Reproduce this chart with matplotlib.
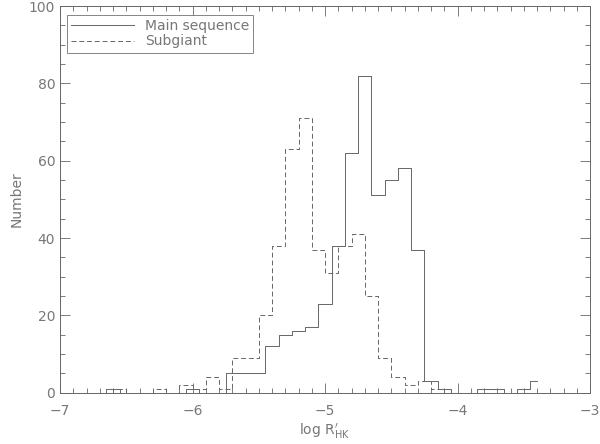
import numpy as np
import matplotlib.pyplot as plt
from matplotlib.ticker import MultipleLocator

# histogram of log R'HK, bin width 0.1
ms_centers = np.round(np.arange(-7.0, -3.35, 0.1), 2)
ms_counts = [0, 0, 0, 0, 1, 0, 0, 0, 0, 0,
             1, 0, 0, 5, 5, 5, 12, 15, 16, 17,
             23, 38, 62, 82, 51, 55, 58, 37, 3, 1,
             0, 0, 1, 1, 0, 1, 3]

sg_centers = np.round(np.arange(-6.95, -3.9, 0.1), 2)
sg_counts = [0, 0, 0, 0, 1, 0, 0, 1, 0, 2,
             1, 4, 1, 9, 9, 20, 38, 63, 71, 37,
             31, 38, 41, 25, 9, 4, 2, 3, 1, 0,
             0]

col = "#666666"
txt = "#777777"

fig = plt.figure(figsize=(6, 4.44), dpi=100)
ax = fig.add_axes([60/600, 1 - 392.7/444, 530/600, 386.7/444])

ax.step(ms_centers, ms_counts[:len(ms_centers)], where="mid", color=col, lw=0.7, label="Main sequence")
ax.step(sg_centers, sg_counts[:len(sg_centers)], where="mid", color=col, lw=0.7,
        linestyle=(0, (5, 3)), label="Subgiant")

ax.set_xlim(-7, -3)
ax.set_ylim(0, 100)
ax.xaxis.set_major_locator(MultipleLocator(1))
ax.xaxis.set_minor_locator(MultipleLocator(0.1))
ax.yaxis.set_major_locator(MultipleLocator(20))
ax.yaxis.set_minor_locator(MultipleLocator(5))
ax.tick_params(which="both", direction="in", top=True, right=True, colors=col,
               labelcolor=txt, labelsize=10, width=0.6)
ax.tick_params(which="major", length=7)
ax.tick_params(which="minor", length=3.5)
ax.tick_params(axis="x", pad=8)
for s in ax.spines.values():
    s.set_color(col)
    s.set_linewidth(0.7)

ax.set_xlabel(r"log R$^{\prime}_{\mathrm{HK}}$", color=txt, fontsize=10, labelpad=3)
ax.set_ylabel("Number", color=txt, fontsize=10, labelpad=4)

leg = ax.legend(loc="upper left", fontsize=10, frameon=True, fancybox=False,
                handlelength=4.5, borderpad=0.3, labelspacing=0.1,
                borderaxespad=0, bbox_to_anchor=(0.013, 0.977))
leg.get_frame().set_edgecolor(col)
leg.get_frame().set_linewidth(0.7)
for t in leg.get_texts():
    t.set_color(txt)

fig.savefig("out.png", dpi=100)
